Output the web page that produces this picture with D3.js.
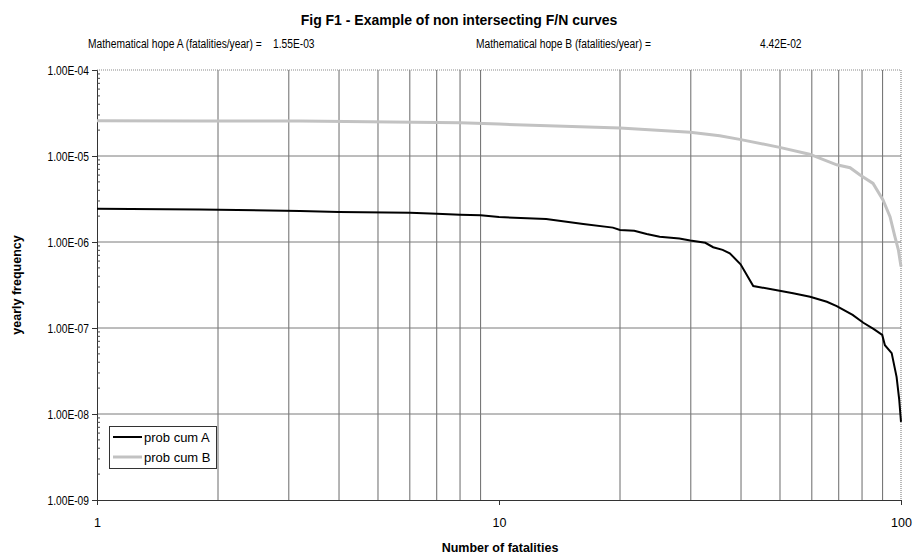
<!DOCTYPE html>
<html>
<head>
<meta charset="utf-8">
<script src="https://cdn.jsdelivr.net/npm/d3@7"></script>
<style>
  body { margin: 0; background: #fff; }
  text { font-family: "Liberation Sans", Arial, Helvetica, sans-serif; fill: #000; }
</style>
</head>
<body>
<svg id="chart" width="921" height="557"></svg>
<script>
// Cumulative frequency curves (F/N) for two scenarios
const fatalitiesA = [1, 1.8, 3.2, 4, 6, 7, 8, 9, 10, 13.1, 16.2, 19.2, 20, 21.7, 23.3, 25.1, 28.1, 29.9, 32.6, 34.1, 36, 37.5, 39.9, 42.9, 49.9, 53.9, 59.4, 65.4, 69.2, 75.8, 80.6, 85.6, 89.8, 91.2, 94.8, 97.5, 99, 100];
const freqA = [2.44e-6, 2.39e-6, 2.29e-6, 2.23e-6, 2.19e-6, 2.13e-6, 2.08e-6, 2.04e-6, 1.95e-6, 1.85e-6, 1.62e-6, 1.47e-6, 1.38e-6, 1.35e-6, 1.24e-6, 1.15e-6, 1.10e-6, 1.04e-6, 9.8e-7, 8.7e-7, 8.1e-7, 7.4e-7, 5.5e-7, 3.08e-7, 2.71e-7, 2.53e-7, 2.31e-7, 2.02e-7, 1.80e-7, 1.42e-7, 1.15e-7, 9.7e-8, 8.3e-8, 6.3e-8, 5.1e-8, 2.7e-8, 1.46e-8, 8.1e-9];

const fatalitiesB = [1, 1.8, 3.2, 8, 10, 15.9, 20, 29.9, 35.4, 39.7, 49.9, 59.2, 69.2, 74.7, 79.1, 85.2, 90.2, 93.9, 96.6, 98.5, 100];
const freqB = [2.57e-5, 2.55e-5, 2.55e-5, 2.44e-5, 2.35e-5, 2.19e-5, 2.12e-5, 1.89e-5, 1.72e-5, 1.56e-5, 1.26e-5, 1.05e-5, 7.9e-6, 7.3e-6, 6.0e-6, 4.8e-6, 3.08e-6, 1.97e-6, 1.15e-6, 8.1e-7, 5.2e-7];

const yTickValues = [1e-9, 1e-8, 1e-7, 1e-6, 1e-5, 1e-4];
const yTickLabels = ["1.00E-09", "1.00E-08", "1.00E-07", "1.00E-06", "1.00E-05", "1.00E-04"];
const xTickValues = [1, 10, 100];
const xTickLabels = ["1", "10", "100"];
const seriesNames = ["prob cum A", "prob cum B"];
const hopeLabels = ["Mathematical hope A (fatalities/year) =", "Mathematical hope B (fatalities/year) ="];
const hopeValues = ["1.55E-03", "4.42E-02"];

const svg = d3.select("#chart");
const plotLeft = 97, plotRight = 901, plotTop = 70, plotBottom = 500;
const narrow = 0.77; // horizontal squeeze giving a condensed face

const x = d3.scaleLog().domain([1, 100]).range([plotLeft, plotRight]);
const y = d3.scaleLog().domain([1e-9, 1e-4]).range([plotBottom, plotTop]);

// Title and header values
svg.append("text").attr("x", 459).attr("y", 25).attr("text-anchor", "middle")
  .style("font-size", "14px").style("font-weight", "bold")
  .text("Fig F1 - Example of non intersecting F/N curves");

const hopeX = [88, 476], hopeValX = [273, 760];
hopeLabels.forEach((t, i) => {
  svg.append("text").attr("transform", `translate(${hopeX[i]},48) scale(${narrow},1)`)
    .style("font-size", "13.3px").text(t);
  svg.append("text").attr("transform", `translate(${hopeValX[i]},48) scale(${narrow},1)`)
    .style("font-size", "13.3px").text(hopeValues[i]);
});

// Vertical grid lines at the intermediate values of each decade
const xGrid = x.ticks().filter(v => v > 1 && v < 100 && v !== 10);
svg.append("g").selectAll("line").data(xGrid).join("line")
  .attr("x1", d => x(d)).attr("x2", d => x(d))
  .attr("y1", plotTop).attr("y2", plotBottom)
  .attr("stroke", "#6a6a6a").attr("stroke-width", 1);

// Horizontal grid lines at each decade
svg.append("g").selectAll("line").data(yTickValues.slice(1, -1)).join("line")
  .attr("x1", plotLeft).attr("x2", plotRight)
  .attr("y1", d => y(d)).attr("y2", d => y(d))
  .attr("stroke", "#7a7a7a").attr("stroke-width", 1);

// Plot border (top and right)
svg.append("path")
  .attr("d", `M${plotLeft},${plotTop}H${plotRight}V${plotBottom}`)
  .attr("fill", "none").attr("stroke", "#8a8a8a").attr("stroke-width", 1.2)
  .attr("stroke-dasharray", "1,1");

// Y axis: outer major ticks, inner minor ticks
const yAxis = svg.append("g").attr("transform", `translate(${plotLeft},0)`);
yAxis.call(d3.axisLeft(y).tickValues(yTickValues).tickFormat((d, i) => yTickLabels[i]).tickSize(5).tickPadding(3));
yAxis.attr("font-family", null).attr("font-size", null);
yAxis.select(".domain").attr("stroke", "#333");
yAxis.selectAll(".tick line").attr("stroke", "#333");
yAxis.selectAll(".tick text").style("font-size", "13.3px").attr("fill", "#000")
  .attr("x", null).attr("transform", `translate(-8,0) scale(${narrow},1)`);
const yMinor = y.ticks().filter(v => !yTickValues.some(t => Math.abs(t - v) / t < 1e-6));
yAxis.append("g").selectAll("line").data(yMinor).join("line")
  .attr("x1", 0).attr("x2", 3).attr("y1", d => y(d)).attr("y2", d => y(d))
  .attr("stroke", "#444");

// X axis
const xAxis = svg.append("g").attr("transform", `translate(0,${plotBottom})`);
xAxis.call(d3.axisBottom(x).tickValues(xTickValues).tickFormat((d, i) => xTickLabels[i]).tickSize(5).tickPadding(13));
xAxis.attr("font-family", null).attr("font-size", null);
xAxis.select(".domain").attr("stroke", "#333");
xAxis.selectAll(".tick line").attr("stroke", "#333");
xAxis.selectAll(".tick text").style("font-size", "12.5px").attr("fill", "#000");

// Axis titles
svg.append("text").attr("x", 500).attr("y", 552).attr("text-anchor", "middle")
  .style("font-size", "12.5px").style("font-weight", "bold").text("Number of fatalities");
svg.append("text").attr("transform", "translate(21,285) rotate(-90)").attr("text-anchor", "middle")
  .style("font-size", "12.5px").style("font-weight", "bold").text("yearly frequency");

// Curves
const line = d3.line().x(d => x(d[0])).y(d => y(d[1]));
const dataB = fatalitiesB.map((n, i) => [n, freqB[i]]);
const dataA = fatalitiesA.map((n, i) => [n, freqA[i]]);
svg.append("path").datum(dataB).attr("d", line)
  .attr("fill", "none").attr("stroke", "#c2c2c2").attr("stroke-width", 3);
svg.append("path").datum(dataA).attr("d", line)
  .attr("fill", "none").attr("stroke", "#000").attr("stroke-width", 2);

// Legend
const lg = svg.append("g");
lg.append("rect").attr("x", 109.5).attr("y", 426.5).attr("width", 107).attr("height", 42)
  .attr("fill", "#fff").attr("stroke", "#333").attr("stroke-width", 1);
const legendStroke = [{ c: "#000", w: 2 }, { c: "#c2c2c2", w: 3 }];
seriesNames.forEach((name, i) => {
  const ly = 437 + i * 20;
  lg.append("line").attr("x1", 113).attr("x2", 142).attr("y1", ly).attr("y2", ly)
    .attr("stroke", legendStroke[i].c).attr("stroke-width", legendStroke[i].w);
  lg.append("text").attr("x", 144).attr("y", ly + 5).style("font-size", "13px").text(name);
});
</script>
</body>
</html>
